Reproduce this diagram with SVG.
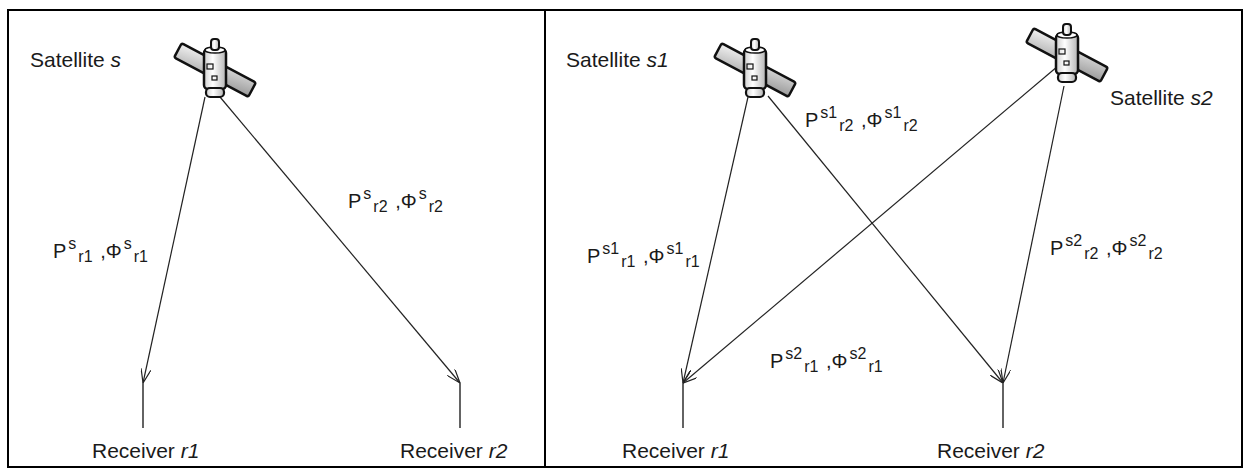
<svg xmlns="http://www.w3.org/2000/svg" width="1246" height="468" viewBox="0 0 1246 468">
  <style>
    text { font-family: "Liberation Sans", Arial, sans-serif; font-size: 21px; fill: #1a1a1a; }
    .obs { font-size: 20px; }
    .sm { font-size: 16px; }
    .link { stroke: #222; stroke-width: 1.2; fill: none; marker-end: url(#vee); }
    .stem { stroke: #222; stroke-width: 1.4; }
    .frame { stroke: #000; stroke-width: 2; fill: none; }
  </style>
  <defs>
    <linearGradient id="panelGrad" x1="0" y1="0" x2="1" y2="1">
      <stop offset="0" stop-color="#f2f2f2"/>
      <stop offset="1" stop-color="#9a9a9a"/>
    </linearGradient>
    <linearGradient id="bodyGrad" x1="0" y1="0" x2="1" y2="0">
      <stop offset="0" stop-color="#cfcfcf"/>
      <stop offset="0.4" stop-color="#ffffff"/>
      <stop offset="1" stop-color="#b5b5b5"/>
    </linearGradient>
    <marker id="vee" viewBox="0 0 14 10" refX="14" refY="5" markerWidth="14" markerHeight="10" orient="auto" markerUnits="userSpaceOnUse">
      <path d="M0,0 L14,5 L0,10" fill="none" stroke="#222" stroke-width="1.2"/>
    </marker>
    <!-- satellite icon, centred on its body -->
    <g id="satIcon">
      <rect x="-42" y="-8" width="84" height="16" rx="2" transform="rotate(28)" fill="url(#panelGrad)" stroke="#111" stroke-width="2.5"/>
      <rect x="-11" y="-21" width="22" height="40" rx="4" fill="url(#bodyGrad)" stroke="#111" stroke-width="2.5"/>
      <ellipse cx="0" cy="-20" rx="10" ry="3" fill="#fff" stroke="#111" stroke-width="1.5"/>
      <rect x="-4" y="-31" width="8" height="11" rx="3" fill="url(#bodyGrad)" stroke="#111" stroke-width="2"/>
      <rect x="-9" y="18" width="18" height="9" rx="4" fill="url(#bodyGrad)" stroke="#111" stroke-width="2.2"/>
      <rect x="-8" y="-6" width="6" height="5" fill="none" stroke="#111" stroke-width="1.2"/>
      <rect x="-3" y="6" width="5" height="4" fill="none" stroke="#111" stroke-width="1.2"/>
    </g>
  </defs>

  <rect width="1246" height="468" fill="#fff"/>

  <!-- panel frames -->
  <g id="frame">
    <rect class="frame" x="8" y="10" width="1234" height="457"/>
    <line class="frame" x1="545" y1="10" x2="545" y2="467"/>
  </g>

  <!-- connectors -->
  <g id="connectors">
    <path class="link" d="M205,97 L143,383"/>
    <path class="link" d="M220,97 L460,383"/>
    <path class="link" d="M748,97 L683,383"/>
    <path class="link" d="M768,96 L1003,383"/>
    <path class="link" d="M1058,66 L683,383"/>
    <path class="link" d="M1064,86 L1003,383"/>
  </g>

  <!-- left panel: one satellite, two receivers -->
  <g id="sat-s">
    <use href="#satIcon" transform="translate(215,70)"/>
    <text x="30" y="67">Satellite <tspan font-style="italic">s</tspan></text>
  </g>
  <g id="rx-left-r1">
    <line class="stem" x1="143" y1="383" x2="143" y2="428"/>
    <text x="92" y="458">Receiver <tspan font-style="italic">r1</tspan></text>
  </g>
  <g id="rx-left-r2">
    <line class="stem" x1="460" y1="383" x2="460" y2="428"/>
    <text x="400" y="458">Receiver <tspan font-style="italic">r2</tspan></text>
  </g>
  <g id="obs-left" class="obs">
    <text class="obs" x="53" y="258">P<tspan class="sm" dx="2" dy="-9">s</tspan><tspan class="sm" dx="2" dy="13">r1</tspan><tspan dx="2" dy="-4"> ,Φ</tspan><tspan class="sm" dx="2" dy="-9">s</tspan><tspan class="sm" dx="2" dy="13">r1</tspan></text>
    <text class="obs" x="348" y="208">P<tspan class="sm" dx="2" dy="-9">s</tspan><tspan class="sm" dx="2" dy="13">r2</tspan><tspan dx="2" dy="-4"> ,Φ</tspan><tspan class="sm" dx="2" dy="-9">s</tspan><tspan class="sm" dx="2" dy="13">r2</tspan></text>
  </g>

  <!-- right panel: two satellites, two receivers -->
  <g id="sat-s1">
    <use href="#satIcon" transform="translate(755,70)"/>
    <text x="566" y="67">Satellite <tspan font-style="italic">s1</tspan></text>
  </g>
  <g id="sat-s2">
    <use href="#satIcon" transform="translate(1067,55)"/>
    <text x="1110" y="105">Satellite <tspan font-style="italic">s2</tspan></text>
  </g>
  <g id="rx-right-r1">
    <line class="stem" x1="683" y1="383" x2="683" y2="428"/>
    <text x="622" y="458">Receiver <tspan font-style="italic">r1</tspan></text>
  </g>
  <g id="rx-right-r2">
    <line class="stem" x1="1003" y1="383" x2="1003" y2="428"/>
    <text x="937" y="458">Receiver <tspan font-style="italic">r2</tspan></text>
  </g>
  <g id="obs-right">
    <text class="obs" x="587" y="263">P<tspan class="sm" dx="2" dy="-9">s1</tspan><tspan class="sm" dx="2" dy="13">r1</tspan><tspan dx="2" dy="-4"> ,Φ</tspan><tspan class="sm" dx="2" dy="-9">s1</tspan><tspan class="sm" dx="2" dy="13">r1</tspan></text>
    <text class="obs" x="805" y="127">P<tspan class="sm" dx="2" dy="-9">s1</tspan><tspan class="sm" dx="2" dy="13">r2</tspan><tspan dx="2" dy="-4"> ,Φ</tspan><tspan class="sm" dx="2" dy="-9">s1</tspan><tspan class="sm" dx="2" dy="13">r2</tspan></text>
    <text class="obs" x="1050" y="255">P<tspan class="sm" dx="2" dy="-9">s2</tspan><tspan class="sm" dx="2" dy="13">r2</tspan><tspan dx="2" dy="-4"> ,Φ</tspan><tspan class="sm" dx="2" dy="-9">s2</tspan><tspan class="sm" dx="2" dy="13">r2</tspan></text>
    <text class="obs" x="770" y="368">P<tspan class="sm" dx="2" dy="-9">s2</tspan><tspan class="sm" dx="2" dy="13">r1</tspan><tspan dx="2" dy="-4"> ,Φ</tspan><tspan class="sm" dx="2" dy="-9">s2</tspan><tspan class="sm" dx="2" dy="13">r1</tspan></text>
  </g>
</svg>
